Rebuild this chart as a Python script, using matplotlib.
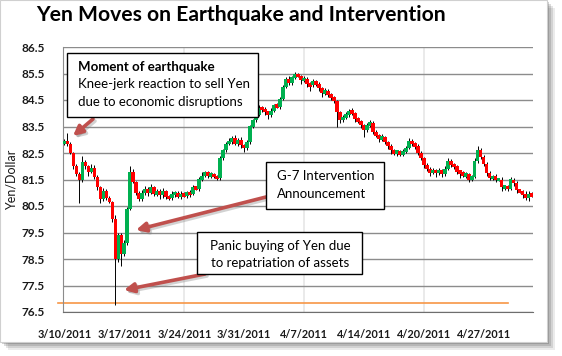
import matplotlib
matplotlib.use("Agg")
import matplotlib.pyplot as plt
from matplotlib.patches import Rectangle, FancyArrowPatch
import numpy as np

# ---------------- data ----------------
tick_labels = ["3/10/2011", "3/17/2011", "3/24/2011", "3/31/2011",
               "4/7/2011", "4/14/2011", "4/20/2011", "4/27/2011"]
tick_index = [0, 20, 40, 60, 80, 100, 120, 140]

first_open = 82.85
closes = [
    82.95, 82.85, 82.50, 82.00, 81.70, 81.50, 82.15, 82.00, 81.80, 81.95,
    81.60, 81.20, 80.75, 81.05, 80.80, 80.65, 80.00, 78.50, 79.40, 78.70,
    79.10, 80.40, 81.80, 81.40, 81.00, 80.75, 81.00, 81.15, 81.00, 81.20,
    80.95, 81.05, 80.90, 81.05, 80.85, 80.80, 80.95, 81.00, 80.85, 80.95,
    80.90, 81.00, 80.95, 81.20, 81.15, 81.50, 81.65, 81.75, 81.65, 81.70,
    81.60, 81.55, 82.30, 82.60, 82.85, 82.95, 83.05, 82.85, 83.00, 82.80,
    82.70, 82.90, 83.50, 83.75, 83.95, 84.20, 84.15, 84.05, 83.95, 84.10,
    84.30, 84.25, 84.55, 85.00, 85.30, 85.15, 85.35, 85.45, 85.40, 85.25,
    85.30, 85.10, 85.05, 85.20, 85.10, 84.95, 84.75, 84.85, 84.70, 84.60,
    84.45, 84.05, 83.75, 83.85, 83.95, 84.10, 84.00, 83.80, 83.70, 83.55,
    83.35, 83.55, 83.65, 83.30, 83.15, 83.05, 83.10, 82.90, 82.75, 82.60,
    82.50, 82.55, 82.45, 82.55, 82.70, 82.95, 82.85, 82.75, 82.50, 82.30,
    82.05, 81.90, 81.75, 81.85, 81.75, 81.85, 81.70, 81.90, 82.20, 82.05,
    82.00, 81.80, 81.75, 81.65, 81.70, 81.50, 81.60, 82.20, 82.60, 82.35,
    82.10, 81.75, 81.55, 81.60, 81.50, 81.50, 81.20, 81.25, 81.15, 81.50,
    81.35, 81.10, 81.05, 80.95, 80.80, 80.95, 80.90,
]
wick_hi = [
    0.08, 0.30, 0.06, 0.05, 0.10, 0.08, 0.25, 0.10, 0.06, 0.12,
    0.08, 0.06, 0.05, 0.12, 0.08, 0.06, 0.05, 0.15, 0.10, 0.08,
    0.10, 0.08, 0.20, 0.10, 0.06, 0.05, 0.12, 0.10, 0.08, 0.12,
    0.06, 0.10, 0.08, 0.12, 0.05, 0.06, 0.10, 0.08, 0.06, 0.10,
    0.08, 0.06, 0.10, 0.08, 0.05, 0.10, 0.12, 0.08, 0.06, 0.10,
    0.05, 0.06, 0.08, 0.06, 0.05, 0.10, 0.08, 0.12, 0.06, 0.10,
    0.05, 0.08, 0.06, 0.05, 0.08, 0.10, 0.06, 0.08, 0.05, 0.10,
    0.06, 0.08, 0.05, 0.06, 0.08, 0.10, 0.06, 0.12, 0.08, 0.06,
    0.10, 0.05, 0.08, 0.10, 0.06, 0.08, 0.05, 0.10, 0.06, 0.08,
    0.05, 0.06, 0.05, 0.08, 0.10, 0.06, 0.08, 0.05, 0.06, 0.05,
    0.06, 0.10, 0.08, 0.05, 0.06, 0.08, 0.10, 0.06, 0.05, 0.08,
    0.06, 0.08, 0.05, 0.10, 0.08, 0.12, 0.06, 0.05, 0.08, 0.06,
    0.05, 0.08, 0.06, 0.10, 0.05, 0.08, 0.06, 0.10, 0.12, 0.06,
    0.08, 0.05, 0.06, 0.08, 0.10, 0.05, 0.06, 0.10, 0.15, 0.08,
    0.06, 0.05, 0.08, 0.06, 0.10, 0.05, 0.08, 0.06, 0.05, 0.10,
    0.06, 0.08, 0.05, 0.06, 0.10, 0.12, 0.08,
]
wick_lo = [
    0.06, 0.08, 0.05, 0.10, 0.06, 0.90, 0.08, 0.10, 0.15, 0.06,
    0.08, 0.10, 0.15, 0.06, 0.08, 0.05, 0.10, 1.75, 0.12, 0.45,
    0.10, 0.08, 0.06, 0.05, 0.10, 0.08, 0.06, 0.10, 0.12, 0.05,
    0.08, 0.06, 0.15, 0.08, 0.10, 0.06, 0.08, 0.12, 0.05, 0.10,
    0.06, 0.08, 0.10, 0.05, 0.06, 0.08, 0.05, 0.06, 0.10, 0.08,
    0.06, 0.08, 0.05, 0.06, 0.08, 0.05, 0.10, 0.06, 0.08, 0.10,
    0.15, 0.10, 0.06, 0.05, 0.08, 0.06, 0.10, 0.12, 0.15, 0.08,
    0.06, 0.05, 0.08, 0.06, 0.05, 0.10, 0.08, 0.06, 0.05, 0.15,
    0.08, 0.10, 0.20, 0.06, 0.08, 0.10, 0.12, 0.06, 0.08, 0.10,
    0.06, 0.55, 0.10, 0.08, 0.06, 0.10, 0.08, 0.12, 0.06, 0.10,
    0.25, 0.06, 0.08, 0.10, 0.06, 0.15, 0.08, 0.06, 0.10, 0.12,
    0.08, 0.10, 0.06, 0.08, 0.05, 0.06, 0.08, 0.10, 0.06, 0.08,
    0.10, 0.08, 0.12, 0.06, 0.15, 0.08, 0.10, 0.06, 0.05, 0.08,
    0.10, 0.08, 0.20, 0.06, 0.08, 0.10, 0.06, 0.05, 0.08, 0.06,
    0.08, 0.10, 0.06, 0.08, 0.10, 0.06, 0.12, 0.08, 0.10, 0.06,
    0.08, 0.10, 0.06, 0.15, 0.08, 0.10, 0.06,
]
ref_level = 76.84
y_ticks = [76.5, 77.5, 78.5, 79.5, 80.5, 81.5, 82.5, 83.5, 84.5, 85.5, 86.5]

# ---------------- figure ----------------
W, H = 562, 356
fig = plt.figure(figsize=(W / 100, H / 100), dpi=100)
fig.patch.set_facecolor("white")

def fx(x):
    return x / W

def fy(y):
    return 1 - y / H

# drop shadow + frame
for k, a in enumerate([0.10, 0.14, 0.18, 0.24]):
    off = 8 - 2 * k
    fig.patches.append(Rectangle((fx(off), fy(342 + off)), fx(547), 342 / H,
                                 transform=fig.transFigure, facecolor="#404040",
                                 edgecolor="none", alpha=a, zorder=-3))
fig.patches.append(Rectangle((0, fy(342)), fx(547), 342 / H,
                             transform=fig.transFigure, facecolor="white",
                             edgecolor="#d0d0d0", lw=0.8, zorder=-2))

ax = fig.add_axes([fx(63), fy(312), 470 / W, 265 / H])
ax.set_facecolor("none")

closes_a = np.array(closes)
opens_a = np.concatenate([[first_open], closes_a[:-1]])
idx = np.arange(len(closes_a))
top = np.maximum(opens_a, closes_a)
bot = np.minimum(opens_a, closes_a)
highs = top + np.array(wick_hi)
lows = bot - np.array(wick_lo)
up = closes_a >= opens_a
colors = np.where(up, "#00B050", "#FF0000")

ax.vlines(idx, lows, highs, color="black", lw=0.7, zorder=3)
mid = (top + bot) / 2
hgt = np.maximum(top - bot, 0.14)
ax.bar(idx, hgt, bottom=mid - hgt / 2, width=1.25,
       color=colors, edgecolor="none", zorder=4)

ax.set_xlim(-0.5, len(closes_a) - 0.5)
ax.set_ylim(76.5, 86.5)
ax.set_yticks(y_ticks)
ax.set_yticklabels([f"{v:.1f}" for v in y_ticks])
ax.set_xticks(tick_index)
ax.set_xticklabels(tick_labels)
ax.tick_params(length=0, labelcolor="#1a1a1a")
ax.tick_params(axis="y", pad=13, labelsize=8.5)
ax.tick_params(axis="x", pad=12, labelsize=7.8)
for lab in ax.get_xticklabels() + ax.get_yticklabels():
    lab.set_fontweight("bold")
    lab.set_family(["Lato", "DejaVu Sans"])

for v in y_ticks:
    ax.axhline(v, color="#8c8c8c", lw=1.0, zorder=1)
for t in tick_index[2::2]:
    ax.axvline(t, color="#e6e6e6", lw=1.2, zorder=0)
for s in ["top", "right"]:
    ax.spines[s].set_visible(False)
ax.spines["left"].set_color("#8c8c8c")
ax.spines["bottom"].set_color("#6e6e6e")

ax.axhline(ref_level, xmin=-0.011, xmax=0.947, color="#F79646", lw=1.2,
           zorder=2, clip_on=False)

fig.text(fx(12), fy(180), "Yen/Dollar", rotation=90, ha="center", va="center",
         fontsize=9, family=["Lato", "DejaVu Sans"], color="#1a1a1a")

fig.text(fx(241), fy(15), "Yen Moves on Earthquake and Intervention",
         ha="center", va="center", fontsize=15.2, fontweight="bold",
         family=["Lato", "DejaVu Sans"], color="black")

# annotation boxes
def box(x0, y0, x1, y1):
    fig.patches.append(Rectangle((fx(x0), fy(y1)), fx(x1 - x0), (y1 - y0) / H,
                                 transform=fig.transFigure, facecolor="white",
                                 edgecolor="black", lw=1.0, zorder=5))

tf = dict(fontsize=9.5, family=["Lato", "DejaVu Sans"], color="black", zorder=6)
box(67, 53, 258, 117)
fig.text(fx(78), fy(67), "Moment of earthquake", ha="left", va="center",
         fontweight="bold", **tf)
fig.text(fx(78), fy(84), "Knee-jerk reaction to sell Yen", ha="left", va="center", **tf)
fig.text(fx(78), fy(102), "due to economic disruptions", ha="left", va="center", **tf)

box(266, 162, 384, 209)
fig.text(fx(277), fy(176), "G-7 Intervention", ha="left", va="center", **tf)
fig.text(fx(277), fy(194), "Announcement", ha="left", va="center", **tf)

box(197, 232, 362, 274)
fig.text(fx(280), fy(246), "Panic buying of Yen due", ha="center", va="center", **tf)
fig.text(fx(280), fy(263), "to repatriation of assets", ha="center", va="center", **tf)

def arrow(x0, y0, x1, y1):
    for dx, col, a in [(2, "#808080", 0.35), (0, "#C0504D", 1.0)]:
        fig.add_artist(FancyArrowPatch(
            (fx(x0 + dx), fy(y0 + dx)), (fx(x1 + dx), fy(y1 + dx)),
            transform=fig.transFigure, arrowstyle="-|>", mutation_scale=14,
            lw=2.6, color=col, alpha=a, zorder=5, shrinkA=0, shrinkB=0))

arrow(93, 119, 73, 136)
arrow(266, 197, 136, 230)
arrow(205, 274, 124, 290)

fig.savefig("out.png", dpi=100)
